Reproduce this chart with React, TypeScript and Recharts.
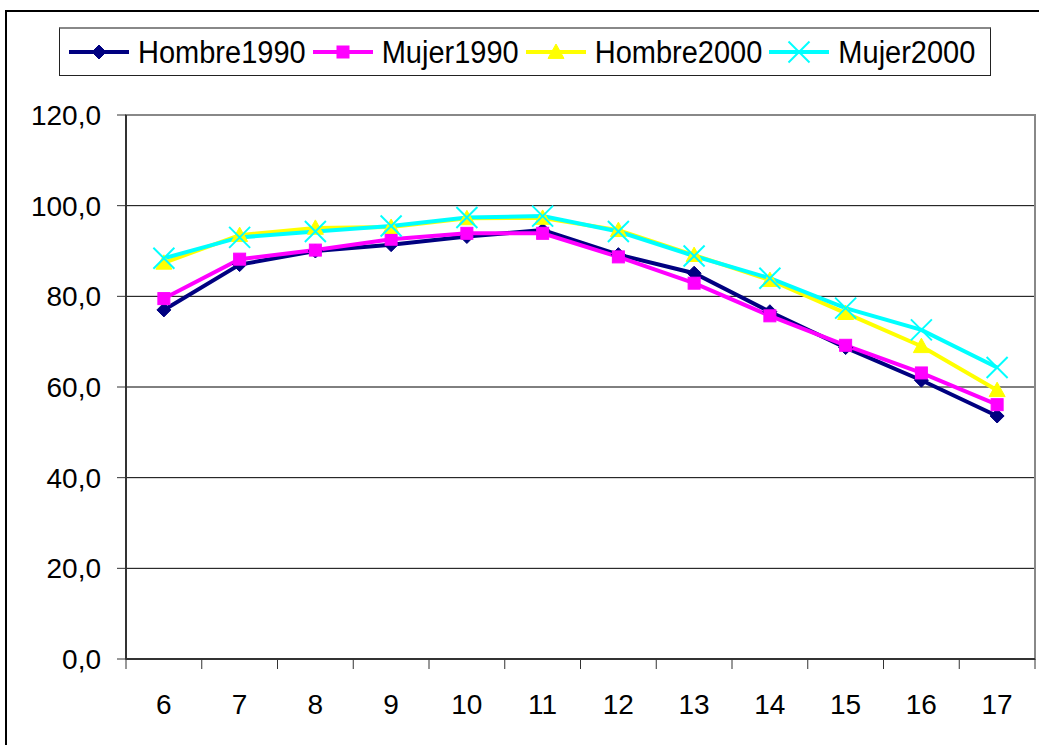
import React from 'react';
import { LineChart, Line, XAxis, YAxis, CartesianGrid, Legend } from 'recharts';

const ages = ['6', '7', '8', '9', '10', '11', '12', '13', '14', '15', '16', '17'];
const hombre1990 = [77.0, 87.0, 90.0, 91.4, 93.2, 94.6, 89.2, 85.1, 76.6, 68.7, 61.5, 53.6];
const mujer1990 = [79.5, 88.2, 90.2, 92.6, 93.9, 93.9, 88.7, 82.9, 75.7, 69.2, 63.1, 56.1];
const hombre2000 = [87.4, 93.5, 95.1, 95.3, 97.2, 97.3, 94.6, 89.1, 83.6, 76.3, 69.0, 59.3];
const mujer2000 = [88.4, 93.0, 94.3, 95.5, 97.4, 97.7, 94.3, 88.9, 84.0, 77.4, 72.6, 64.3];
const yTicks = [0, 20, 40, 60, 80, 100, 120];

const seriesNames = ['Hombre1990', 'Mujer1990', 'Hombre2000', 'Mujer2000'];
const seriesColors = ['#000080', '#FF00FF', '#FFFF00', '#00FFFF'];

const data = ages.map((a, i) => ({
  age: a,
  Hombre1990: hombre1990[i],
  Mujer1990: mujer1990[i],
  Hombre2000: hombre2000[i],
  Mujer2000: mujer2000[i],
}));

const PLOT_W = 909;
const BAND = PLOT_W / ages.length;

const Marker = ({ kind, cx, cy, color }: { kind: number; cx: number; cy: number; color: string }) => {
  if (cx == null || cy == null) return null;
  if (kind === 0) {
    const r = 7;
    return <polygon points={`${cx},${cy - r} ${cx + r},${cy} ${cx},${cy + r} ${cx - r},${cy}`} fill={color} stroke={color} />;
  }
  if (kind === 1) {
    const r = 6;
    return <rect x={cx - r} y={cy - r} width={2 * r} height={2 * r} fill={color} stroke={color} />;
  }
  if (kind === 2) {
    const r = 8;
    return <polygon points={`${cx},${cy - r} ${cx + r},${cy + r * 0.8} ${cx - r},${cy + r * 0.8}`} fill={color} stroke={color} />;
  }
  const r = 10.5;
  return (
    <g stroke={color} strokeWidth={2}>
      <line x1={cx - r} y1={cy - r} x2={cx + r} y2={cy + r} />
      <line x1={cx - r} y1={cy + r} x2={cx + r} y2={cy - r} />
    </g>
  );
};

const makeDot = (kind: number, color: string) => (props: any) => (
  <Marker key={`${kind}-${props.index}`} kind={kind} cx={props.cx} cy={props.cy} color={color} />
);

const XTick = (props: any) => {
  const { x, payload, index } = props;
  const axisY = 659;
  const left = x - BAND / 2;
  return (
    <g>
      <line x1={left} y1={axisY} x2={left} y2={axisY + 10} stroke="#333" strokeWidth={1} />
      {index === ages.length - 1 && (
        <line x1={x + BAND / 2} y1={axisY} x2={x + BAND / 2} y2={axisY + 10} stroke="#333" strokeWidth={1} />
      )}
      <text x={x} y={axisY + 55} textAnchor="middle" fill="#000" fontSize={28}>
        {payload.value}
      </text>
    </g>
  );
};

const LegendContent = () => (
  <div
    style={{
      position: 'absolute',
      left: 59,
      top: 27,
      width: 932,
      height: 49,
      border: '1px solid #222',
      borderTop: '2px solid #888',
      background: '#fff',
      display: 'flex',
      alignItems: 'center',
      paddingLeft: 8,
      boxSizing: 'border-box',
      fontFamily: '"Liberation Sans", Arial, sans-serif',
      fontSize: 29,
      color: '#000',
    }}
  >
    {seriesNames.map((n, i) => (
      <div key={n} style={{ display: 'flex', alignItems: 'center', marginRight: 6 }}>
        <svg width={62} height={30} style={{ marginRight: 8 }}>
          <line x1={1} y1={15} x2={61} y2={15} stroke={seriesColors[i]} strokeWidth={4} />
          <Marker kind={i} cx={31} cy={15} color={seriesColors[i]} />
        </svg>
        <span style={{ lineHeight: '30px', display: 'inline-block', transform: 'scaleY(1.1)' }}>{n}</span>
      </div>
    ))}
  </div>
);

export default function App() {
  return (
    <div style={{ position: 'absolute', left: 0, top: 0, width: 1039, height: 745, overflow: 'hidden', background: '#fff' }}>
      <div
        style={{
          position: 'absolute',
          left: 5,
          top: 10,
          width: 1100,
          height: 800,
          border: '2px solid #000',
        }}
      />
      <div style={{ position: 'absolute', left: 0, top: 0 }}>
        <LineChart
          width={1039}
          height={745}
          data={data}
          margin={{ top: 115, right: 4, bottom: 46, left: 0 }}
          style={{ fontFamily: '"Liberation Sans", Arial, sans-serif' }}
        >
          <rect x={126} y={115} width={PLOT_W} height={544} fill="none" stroke="#888" strokeWidth={2} />
          <CartesianGrid vertical={false} stroke="#000" strokeWidth={1} />
          <XAxis
            dataKey="age"
            height={40}
            padding={{ left: BAND / 2, right: BAND / 2 }}
            tickLine={false}
            tickSize={0}
            tickMargin={0}
            axisLine={{ stroke: '#333', strokeWidth: 2 }}
            tick={<XTick />}
            interval={0}
          />
          <YAxis
            width={126}
            domain={[0, 120]}
            ticks={yTicks}
            tickFormatter={(v: number) => v.toFixed(1).replace('.', ',')}
            tickLine={{ stroke: '#333' }}
            tickSize={9}
            axisLine={{ stroke: '#333', strokeWidth: 2 }}
            tick={{ fill: '#000', fontSize: 28, dx: -14 }}
          />
          <Legend content={() => null} />
          {seriesNames.map((n, i) => (
            <Line
              key={n}
              type="linear"
              dataKey={n}
              stroke={seriesColors[i]}
              strokeWidth={4}
              dot={makeDot(i, seriesColors[i])}
              activeDot={false}
              isAnimationActive={false}
            />
          ))}
        </LineChart>
      </div>
      <LegendContent />
    </div>
  );
}
